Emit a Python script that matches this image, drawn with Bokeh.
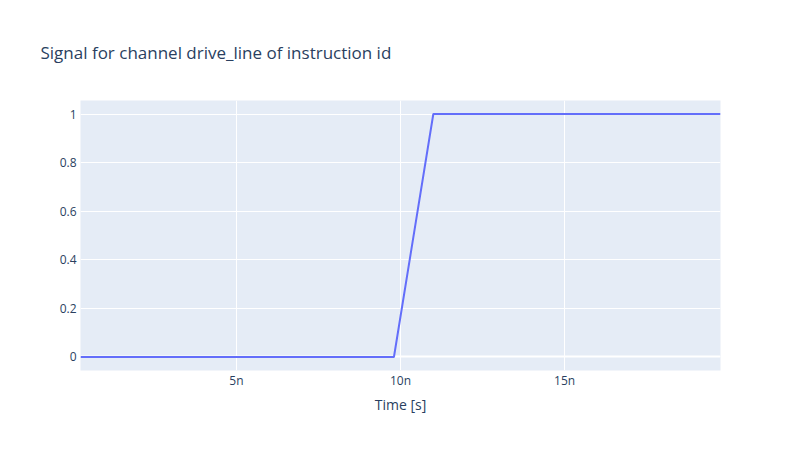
from bokeh.plotting import figure
from bokeh.models import FixedTicker, Range1d
from bokeh.embed import file_html
from bokeh.resources import INLINE

time_s = [0.25e-9, 9.8e-9, 11.0e-9, 19.75e-9]
signal = [0.0, 0.0, 1.0, 1.0]
x_ticks = [5e-9, 10e-9, 15e-9]
x_tick_labels = ["5n", "10n", "15n"]
y_ticks = [0, 0.2, 0.4, 0.6, 0.8, 1.0]
y_tick_labels = ["0", "0.2", "0.4", "0.6", "0.8", "1"]

FONT = "Open Sans"
p = figure(width=784, height=434, output_backend="svg", toolbar_location=None,
           x_range=Range1d(0.25e-9, 19.75e-9), y_range=Range1d(-0.0556, 1.0556),
           min_border_left=80, min_border_right=64, min_border_top=100, min_border_bottom=64)
p.title.text = "Signal for channel drive_line of instruction id"
p.title.text_font = FONT
p.title.text_font_size = "17px"
p.title.text_font_style = "normal"
p.title.text_color = "#2a3f5f"
p.title.offset = -40
p.title.standoff = 70
p.title.vertical_align = "top"

p.background_fill_color = "#E5ECF6"
p.border_fill_color = "white"
p.outline_line_color = None

p.line(time_s, signal, line_color="#636efa", line_width=2)

p.xaxis.ticker = FixedTicker(ticks=x_ticks)
p.xaxis.major_label_overrides = {t: l for t, l in zip(x_ticks, x_tick_labels)}
p.yaxis.ticker = FixedTicker(ticks=y_ticks)
p.yaxis.major_label_overrides = {t: l for t, l in zip(y_ticks, y_tick_labels)}
p.xaxis.axis_label = "Time [s]"
p.xaxis.axis_label_text_font = FONT
p.xaxis.axis_label_text_font_size = "14px"
p.xaxis.axis_label_text_font_style = "normal"
p.xaxis.axis_label_text_color = "#2a3f5f"
p.xaxis.axis_label_standoff = 3
for ax in (p.xaxis, p.yaxis):
    ax.axis_line_color = None
    ax.major_tick_line_color = None
    ax.minor_tick_line_color = None
    ax.major_label_text_font = FONT
    ax.major_label_text_font_size = "12px"
    ax.major_label_text_color = "#2a3f5f"
p.xaxis.major_label_standoff = -5
p.yaxis.major_label_standoff = -2

p.xgrid.grid_line_color = "white"
p.ygrid.grid_line_color = "white"
p.xgrid.grid_line_width = 1
p.ygrid.grid_line_width = 1
p.xgrid.ticker = FixedTicker(ticks=x_ticks)
p.ygrid.ticker = FixedTicker(ticks=y_ticks)
p.hspan(y=[0], line_color="white", line_width=2, level="underlay")

open("out.html", "w").write(file_html(p, INLINE))
